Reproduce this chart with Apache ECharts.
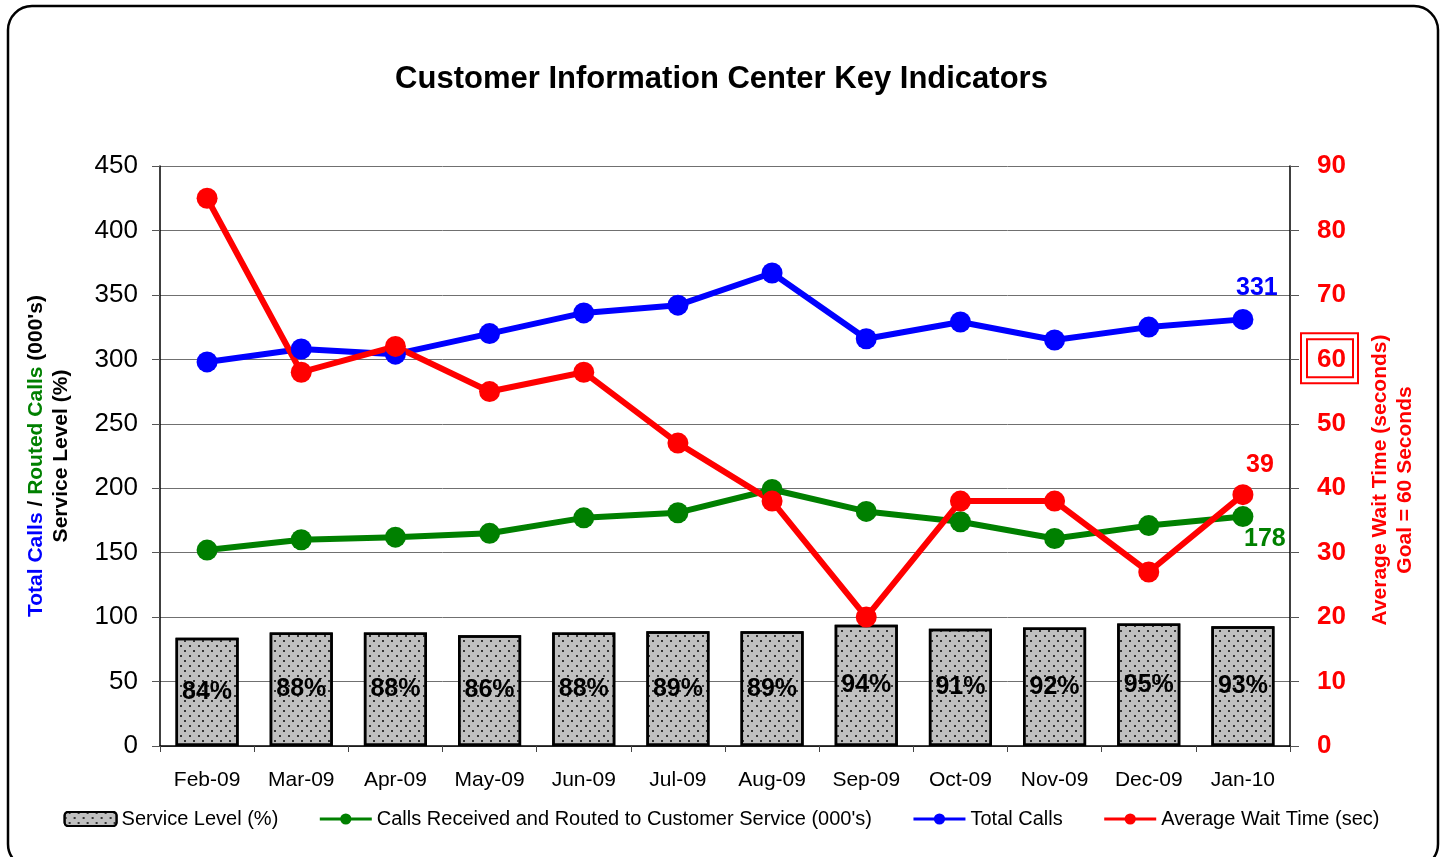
<!DOCTYPE html>
<html>
<head>
<meta charset="utf-8">
<title>Customer Information Center Key Indicators</title>
<script src="https://cdn.jsdelivr.net/npm/echarts@6/dist/echarts.min.js"></script>
<style>
  html, body { margin: 0; padding: 0; background: #fff; }
  #chart { width: 1443px; height: 857px; }
</style>
</head>
<body>
<div id="chart"></div>
<script>
const months = ["Feb-09", "Mar-09", "Apr-09", "May-09", "Jun-09", "Jul-09",
                "Aug-09", "Sep-09", "Oct-09", "Nov-09", "Dec-09", "Jan-10"];
const serviceLevel = [84, 88, 88, 86, 88, 89, 89, 94, 91, 92, 95, 93];
const routedCalls = [152, 160, 162, 165, 177, 181, 199, 182, 174, 161, 171, 178];
const totalCalls = [298, 308, 304, 320, 336, 342, 367, 316, 329, 315, 325, 331];
const waitTime = [85, 58, 62, 55, 58, 47, 38, 20, 38, 38, 27, 39];
const goalSeconds = 60;

const FONT = '"Liberation Sans", Arial, sans-serif';

// show a value label only on the last point
function lastLabel(arr, color, pos, offset) {
  return arr.map(function (v, i) {
    if (i !== arr.length - 1) return v;
    return {
      value: v,
      label: {
        show: true, position: pos, offset: offset,
        color: color, fontSize: 25, fontWeight: "bold", fontFamily: FONT
      }
    };
  });
}

function lineSeries(name, data, color, yAxisIndex) {
  return {
    name: name,
    type: "line",
    yAxisIndex: yAxisIndex,
    data: data,
    symbol: "circle",
    symbolSize: 21,
    lineStyle: { color: color, width: 6 },
    itemStyle: { color: color },
    emphasis: { disabled: true }
  };
}

let myChart = echarts.init(document.getElementById("chart"));
myChart.setOption({
  animation: false,
  backgroundColor: "#fff",
  textStyle: { fontFamily: FONT },
  title: {
    text: "Customer Information Center Key Indicators",
    left: "center",
    top: 64,
    padding: 0,
    textStyle: { fontSize: 31, fontWeight: "bold", color: "#000", fontFamily: FONT }
  },
  legend: {
    bottom: 23,
    left: "center",
    itemWidth: 52,
    itemHeight: 14,
    itemGap: 40,
    lineStyle: { width: 3 },
    textStyle: { fontSize: 20, color: "#000", fontFamily: FONT },
    data: ["Service Level (%)", "Calls Received and Routed to Customer Service (000's)",
           "Total Calls", "Average Wait Time (sec)"]
  },
  grid: { left: 160, right: 153, top: 166, bottom: 111 },
  xAxis: {
    type: "category",
    data: months,
    axisLine: { lineStyle: { color: "#000", width: 1.5 } },
    axisTick: { show: true, length: 6, lineStyle: { color: "#444" } },
    axisLabel: { color: "#000", fontSize: 21, margin: 24, fontFamily: FONT }
  },
  yAxis: [
    {
      type: "value",
      min: 0, max: 450, interval: 50,
      name: "{b|Total Calls} / {g|Routed Calls} (000's)\nService Level (%)",
      nameLocation: "middle",
      nameRotate: 90,
      nameGap: 86,
      nameTextStyle: {
        fontSize: 21, fontWeight: "bold", color: "#000", lineHeight: 25, fontFamily: FONT,
        rich: {
          b: { color: "#0000ff", fontSize: 21, fontWeight: "bold", fontFamily: FONT },
          g: { color: "#008000", fontSize: 21, fontWeight: "bold", fontFamily: FONT }
        }
      },
      axisLine: { show: true, lineStyle: { color: "#000", width: 1.5 } },
      axisTick: { show: true, length: 8, lineStyle: { color: "#555" } },
      axisLabel: { color: "#000", fontSize: 26, margin: 22, fontFamily: FONT },
      splitLine: { lineStyle: { color: "#707070", width: 1 } }
    },
    {
      type: "value",
      min: 0, max: 90, interval: 10,
      position: "right",
      name: "Average Wait Time (seconds)\nGoal = 60 Seconds",
      nameLocation: "middle",
      nameRotate: 90,
      nameGap: 78,
      nameTextStyle: {
        fontSize: 21, fontWeight: "bold", color: "#ff0000", lineHeight: 25,
        fontFamily: FONT, padding: [0, 48, 0, 0]
      },
      axisLine: { show: true, lineStyle: { color: "#000", width: 1.5 } },
      axisTick: { show: true, length: 9, lineStyle: { color: "#555" } },
      axisLabel: { color: "#ff0000", fontSize: 26, fontWeight: "bold", margin: 27, fontFamily: FONT },
      splitLine: { show: false }
    }
  ],
  series: [
    {
      name: "Service Level (%)",
      type: "bar",
      yAxisIndex: 0,
      data: serviceLevel,
      barWidth: "67%",
      itemStyle: {
        color: "#c0c0c0",
        borderColor: "#000",
        borderWidth: 2.5,
        decal: {
          symbol: "rect",
          symbolSize: 1,
          color: "#333",
          dashArrayX: [[1.5, 6.5], [0, 4, 1.5, 2.5]],
          dashArrayY: [1.5, 2.5]
        }
      },
      label: {
        show: true, position: "inside",
        formatter: "{c}%",
        color: "#000", fontSize: 25, fontWeight: "bold", fontFamily: FONT
      },
      emphasis: { disabled: true }
    },
    lineSeries("Calls Received and Routed to Customer Service (000's)",
      lastLabel(routedCalls, "#008000", "bottom", [22, -5]), "#008000", 0),
    lineSeries("Total Calls",
      lastLabel(totalCalls, "#0000ff", "top", [14, -3]), "#0000ff", 0),
    lineSeries("Average Wait Time (sec)",
      lastLabel(waitTime, "#ff0000", "top", [17, -2]), "#ff0000", 1)
  ]
});

// outer frame and the double box around the goal tick label
let goalY = myChart.convertToPixel({ yAxisIndex: 1 }, goalSeconds);
myChart.setOption({
  graphic: [
    {
      type: "rect",
      shape: { x: 8, y: 6, width: 1430, height: 862, r: 24 },
      style: { fill: null, stroke: "#000", lineWidth: 2.5 },
      silent: true
    },
    {
      type: "rect",
      shape: { x: 1301, y: goalY - 26, width: 57, height: 50 },
      style: { fill: null, stroke: "#ff0000", lineWidth: 2 },
      silent: true
    },
    {
      type: "rect",
      shape: { x: 1307, y: goalY - 20, width: 46, height: 38 },
      style: { fill: null, stroke: "#ff0000", lineWidth: 2 },
      silent: true
    }
  ]
});
</script>
</body>
</html>
